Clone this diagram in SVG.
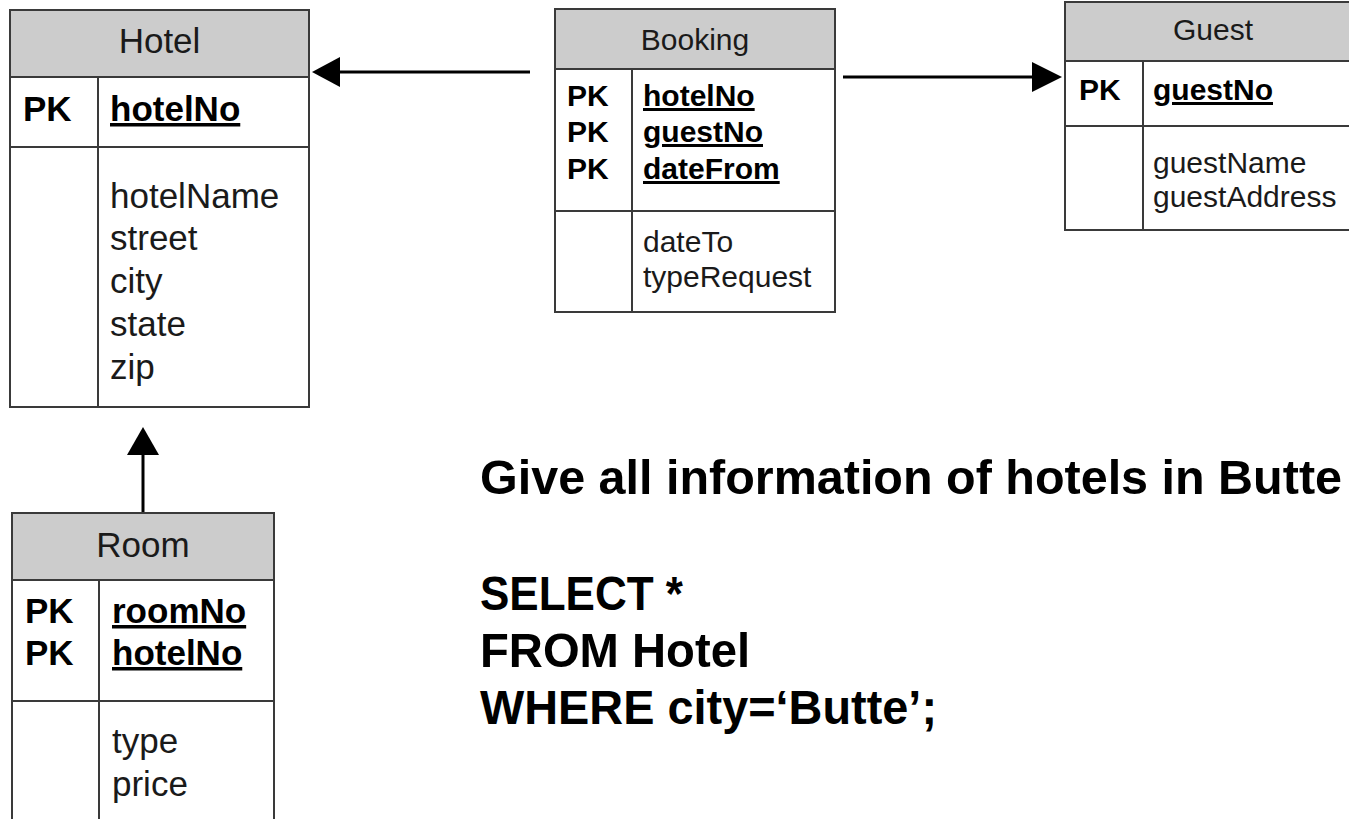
<svg xmlns="http://www.w3.org/2000/svg" width="1349" height="819" viewBox="0 0 1349 819">
<style>
.box{fill:#fff;stroke:#3a3a3a;stroke-width:2}
.hdr{fill:#cccccc;stroke:#3a3a3a;stroke-width:2}
.ln{stroke:#3a3a3a;stroke-width:2;fill:none}
.t{font-family:"Liberation Sans",Arial,sans-serif;fill:#1a1a1a}
.b{font-weight:bold;fill:#000}
.u{text-decoration:underline}
.c{text-anchor:middle}
.conn{stroke:#000;stroke-width:3;fill:none}
.head{fill:#000}
.q{font-family:"Liberation Sans",Arial,sans-serif;font-weight:bold;font-size:49px;fill:#000}
</style>
<rect width="1349" height="819" fill="#fff"/>

<g id="connectors">
  <line class="conn" x1="530" y1="72" x2="338" y2="72"/>
  <polygon class="head" points="312,72 340,57 340,87"/>
  <line class="conn" x1="843" y1="77" x2="1034" y2="77"/>
  <polygon class="head" points="1062,77 1032,62 1032,92"/>
  <line class="conn" x1="143" y1="513" x2="143" y2="453"/>
  <polygon class="head" points="143,427 127,455 159,455"/>
</g>

<g id="hotel">
  <rect class="box" x="10" y="10" width="299" height="397"/>
  <rect class="hdr" x="10" y="10" width="299" height="67"/>
  <line class="ln" x1="10" y1="147" x2="309" y2="147"/>
  <line class="ln" x1="98" y1="77" x2="98" y2="407"/>
  <g class="t" font-size="35">
    <text class="c" x="159.5" y="53">Hotel</text>
    <text class="b" x="23" y="121">PK</text>
    <text class="b u" x="110" y="121">hotelNo</text>
    <text x="110" y="208">hotelName</text>
    <text x="110" y="250">street</text>
    <text x="110" y="293">city</text>
    <text x="110" y="336">state</text>
    <text x="110" y="379">zip</text>
  </g>
</g>

<g id="booking">
  <rect class="box" x="555" y="9" width="280" height="303"/>
  <rect class="hdr" x="555" y="9" width="280" height="60"/>
  <line class="ln" x1="555" y1="211" x2="835" y2="211"/>
  <line class="ln" x1="632" y1="69" x2="632" y2="312"/>
  <g class="t" font-size="30">
    <text class="c" x="695" y="50">Booking</text>
    <text class="b" x="567" y="106">PK</text>
    <text class="b" x="567" y="142">PK</text>
    <text class="b" x="567" y="179">PK</text>
    <text class="b u" x="643" y="106">hotelNo</text>
    <text class="b u" x="643" y="142">guestNo</text>
    <text class="b u" x="643" y="179">dateFrom</text>
    <text x="643" y="252">dateTo</text>
    <text x="643" y="287">typeRequest</text>
  </g>
</g>

<g id="guest">
  <rect class="box" x="1065" y="2" width="300" height="228"/>
  <rect class="hdr" x="1065" y="2" width="300" height="59"/>
  <line class="ln" x1="1065" y1="126" x2="1365" y2="126"/>
  <line class="ln" x1="1143" y1="61" x2="1143" y2="230"/>
  <g class="t" font-size="30">
    <text class="c" x="1213" y="40">Guest</text>
    <text class="b" x="1079" y="100">PK</text>
    <text class="b u" x="1153" y="100">guestNo</text>
    <text x="1153" y="173">guestName</text>
    <text x="1153" y="207">guestAddress</text>
  </g>
</g>

<g id="room">
  <rect class="box" x="12" y="513" width="262" height="330"/>
  <rect class="hdr" x="12" y="513" width="262" height="67"/>
  <line class="ln" x1="12" y1="701" x2="274" y2="701"/>
  <line class="ln" x1="99" y1="580" x2="99" y2="843"/>
  <g class="t" font-size="35">
    <text class="c" x="143" y="557">Room</text>
    <text class="b" x="25" y="623">PK</text>
    <text class="b" x="25" y="665">PK</text>
    <text class="b u" x="112" y="623">roomNo</text>
    <text class="b u" x="112" y="665">hotelNo</text>
    <text x="112" y="753">type</text>
    <text x="112" y="796">price</text>
  </g>
</g>

<g id="query">
  <text class="q" x="480" y="494" textLength="862" lengthAdjust="spacingAndGlyphs">Give all information of hotels in Butte</text>
  <text class="q" x="480" y="610" textLength="203" lengthAdjust="spacingAndGlyphs">SELECT *</text>
  <text class="q" x="480" y="667" textLength="270" lengthAdjust="spacingAndGlyphs">FROM Hotel</text>
  <text class="q" x="480" y="724" textLength="457" lengthAdjust="spacingAndGlyphs">WHERE city=‘Butte’;</text>
</g>
</svg>
